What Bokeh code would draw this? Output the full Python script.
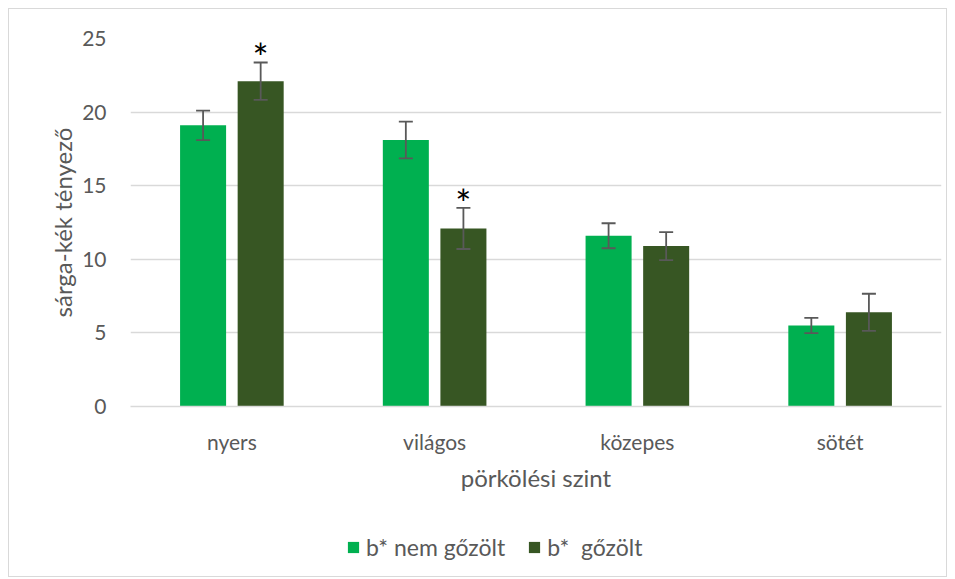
from bokeh.plotting import figure
from bokeh.models import (ColumnDataSource, FactorRange, Whisker, TeeHead, Legend, LegendItem,
                          SingleIntervalTicker, Range1d)
from bokeh.layouts import column
from bokeh.transform import dodge
from bokeh.core.properties import value
from bokeh.embed import file_html
from bokeh.resources import INLINE

categories = ["nyers", "világos", "közepes", "sötét"]
nem_gozolt = [19.1, 18.1, 11.6, 5.5]
nem_gozolt_err = [1.0, 1.25, 0.85, 0.52]
gozolt = [22.1, 12.1, 10.9, 6.4]
gozolt_err = [1.27, 1.4, 0.95, 1.26]
significant_gozolt = ["*", "*", "", ""]
series_labels = ["b* nem gőzölt", "b*  gőzölt"]

FONT = "Lato"
LIGHT = "#00B050"
DARK = "#375623"
GRAY = "#595959"

src = ColumnDataSource(dict(
    cat=categories,
    a=nem_gozolt, a_lo=[v - e for v, e in zip(nem_gozolt, nem_gozolt_err)],
    a_hi=[v + e for v, e in zip(nem_gozolt, nem_gozolt_err)],
    b=gozolt, b_lo=[v - e for v, e in zip(gozolt, gozolt_err)],
    b_hi=[v + e for v, e in zip(gozolt, gozolt_err)],
    star_b=significant_gozolt,
))

p = figure(x_range=FactorRange(*categories, range_padding=0), y_range=(0, 25),
           width=937, height=492, output_backend="svg", toolbar_location=None,
           min_border_left=121, min_border_right=5, min_border_top=29, min_border_bottom=95)
p.x_range.factor_padding = 0
p.x_range.range_padding = 0

OFF = 0.142
W = 0.227
r1 = p.vbar(x=dodge("cat", -OFF, range=p.x_range), top="a", width=W, source=src,
            fill_color=LIGHT, line_color=None)
r2 = p.vbar(x=dodge("cat", OFF, range=p.x_range), top="b", width=W, source=src,
            fill_color=DARK, line_color=None)

for off, lo, hi in [(-OFF, "a_lo", "a_hi"), (OFF, "b_lo", "b_hi")]:
    w = Whisker(base=dodge("cat", off, range=p.x_range), lower=lo, upper=hi, source=src,
                line_color=GRAY, line_width=1.8, level="annotation",
                upper_head=TeeHead(size=14, line_color=GRAY, line_width=1.8),
                lower_head=TeeHead(size=14, line_color=GRAY, line_width=1.8))
    p.add_layout(w)

p.text(x=dodge("cat", OFF, range=p.x_range), y="b_hi", text="star_b", source=src,
       text_align="center", text_baseline="bottom", y_offset=18,
       text_font=value(FONT), text_font_size="38px", text_color="black")

p.yaxis.ticker = SingleIntervalTicker(interval=5)
p.ygrid.ticker = SingleIntervalTicker(interval=5)
p.ygrid.grid_line_color = "#d9d9d9"
p.ygrid.grid_line_width = 1.3
p.xgrid.grid_line_color = None
p.outline_line_color = None
p.background_fill_color = "white"

for ax in (p.xaxis[0], p.yaxis[0]):
    ax.major_tick_line_color = None
    ax.minor_tick_line_color = None
    ax.major_label_text_font = FONT
    ax.major_label_text_font_size = "21px"
    ax.major_label_text_color = GRAY
    ax.axis_label_text_font = FONT
    ax.axis_label_text_font_size = "24px"
    ax.axis_label_text_color = GRAY
    ax.axis_label_text_font_style = "normal"
p.yaxis.axis_line_color = None
p.xaxis.axis_line_color = "#d9d9d9"
p.xaxis.axis_line_width = 1.3
p.yaxis.axis_label = "sárga-kék tényező"
p.xaxis.axis_label = "pörkölési szint"
p.yaxis.major_label_standoff = 18
p.yaxis.axis_label_standoff = 2
p.xaxis.major_label_standoff = 16
p.xaxis.axis_label_standoff = 6

# legend strip below the chart (its renderers are hidden; only the legend shows)
lg = figure(x_range=p.x_range, y_range=Range1d(-2, -1), width=937, height=75,
            output_backend="svg", toolbar_location=None,
            min_border_left=0, min_border_right=0, min_border_top=0, min_border_bottom=0)
lg.axis.visible = False
lg.grid.visible = False
lg.outline_line_color = None
l1 = lg.vbar(x="cat", top="a", width=W, source=src, fill_color=LIGHT, line_color=None)
l2 = lg.vbar(x="cat", top="b", width=W, source=src, fill_color=DARK, line_color=None)
l1.visible = False
l2.visible = False
legend = Legend(items=[LegendItem(label=series_labels[0], renderers=[l1]),
                       LegendItem(label=series_labels[1], renderers=[l2])],
                orientation="horizontal", location=(216, 15),
                label_text_font=FONT, label_text_font_size="23px", label_text_color=GRAY,
                glyph_width=14, glyph_height=14, spacing=22, label_standoff=6,
                inactive_fill_alpha=0,
                border_line_color=None, background_fill_alpha=0, margin=0, padding=0)
lg.add_layout(legend)

layout = column(p, lg, spacing=0,
                styles={"border": "1px solid #d9d9d9", "margin-left": "8px", "margin-top": "8px"})

open("out.html", "w").write(file_html(layout, INLINE))
